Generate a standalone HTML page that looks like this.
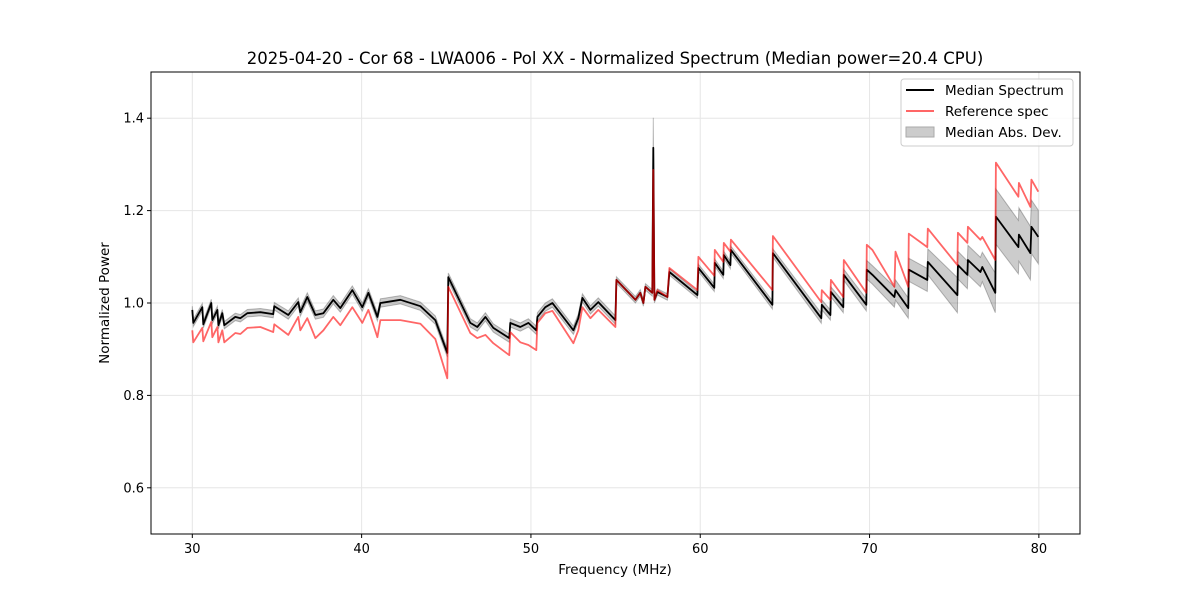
<!DOCTYPE html>
<html><head><meta charset="utf-8"><style>
body{margin:0;background:#fff;}
svg{display:block;font-family:"DejaVu Sans","Liberation Sans",sans-serif;}
</style></head><body>
<svg id="chart" width="1200" height="600" viewBox="0 0 1200 600">
<rect width="1200" height="600" fill="#fff"/>
<text x="615" y="64" font-size="16.5" text-anchor="middle">2025-04-20 - Cor 68 - LWA006 - Pol XX - Normalized Spectrum (Median power=20.4 CPU)</text>
<g id="grid"></g>
<g id="series"></g>
<rect x="151" y="72" width="929" height="462" fill="none" stroke="#000" stroke-width="1"/>
<g id="ticks"></g>
<text x="615" y="574" font-size="13.5" text-anchor="middle">Frequency (MHz)</text>
<text transform="translate(109,303) rotate(-90)" font-size="13.5" text-anchor="middle">Normalized Power</text>
<g>
<rect x="901" y="79" width="172" height="67" rx="3" fill="#fff" fill-opacity="0.8" stroke="#ccc"/>
<line x1="906" y1="90" x2="934" y2="90" stroke="#000" stroke-width="2"/>
<text x="945" y="95" font-size="13.5">Median Spectrum</text>
<line x1="906" y1="111" x2="934" y2="111" stroke="#ff6666" stroke-width="2"/>
<text x="945" y="116" font-size="13.5">Reference spec</text>
<rect x="906" y="127" width="28" height="10" fill="#ccc" stroke="#aaa"/>
<text x="945" y="137" font-size="13.5">Median Abs. Dev.</text>
</g>
</svg>
<script>
const freq=[30.00,30.06,30.59,30.65,31.12,31.18,31.48,31.54,31.77,31.89,32.54,32.84,33.25,34.02,34.78,34.84,35.67,36.26,36.38,36.79,37.27,37.74,38.33,38.74,39.45,40.04,40.40,40.93,41.11,42.29,43.47,44.35,45.06,45.12,46.42,46.83,47.31,47.78,48.72,48.78,49.37,49.85,50.32,50.38,50.85,51.27,52.51,52.80,53.04,53.51,53.98,54.99,55.05,56.17,56.46,56.64,56.76,57.17,57.23,57.29,57.47,58.06,58.18,59.83,59.89,60.83,60.86,61.36,61.39,61.78,61.81,64.26,64.29,67.15,67.18,67.69,67.72,68.45,68.48,69.81,69.84,70.17,71.47,71.53,72.29,72.32,73.41,73.44,75.19,75.22,75.78,75.81,76.55,76.66,77.43,77.46,78.79,78.82,79.50,79.56,79.97];
const medianSpec=[.985,.957,.991,.954,1.000,.963,.985,.952,.978,.952,.970,.967,.978,.980,.976,.993,.974,1.002,.980,1.013,.974,.978,1.007,.989,1.028,.991,1.022,.970,1.000,1.007,.993,.963,.892,1.056,.957,.948,.970,.946,.924,.957,.948,.957,.941,.970,.991,1.000,.941,.967,1.011,.985,1.002,.963,1.050,1.007,1.022,1.000,1.035,1.022,1.336,1.007,1.024,1.013,1.067,1.017,1.076,1.033,1.087,1.061,1.104,1.082,1.115,.996,1.108,.967,.996,.974,1.024,.991,1.061,.996,1.072,1.061,1.013,1.028,.989,1.072,1.050,1.089,1.017,1.082,1.061,1.093,1.067,1.078,1.022,1.187,1.121,1.148,1.108,1.165,1.143];
const refSpec=[.941,.915,.946,.917,.959,.926,.948,.915,.941,.915,.935,.933,.946,.948,.937,.954,.931,.970,.941,.967,.924,.941,.970,.952,.991,.957,.985,.926,.963,.963,.955,.922,.837,1.035,.935,.924,.931,.913,.887,.937,.915,.909,.898,.957,.978,.983,.913,.941,.991,.967,.985,.948,1.050,1.007,1.022,1.000,1.035,1.022,1.288,1.007,1.028,1.013,1.076,1.028,1.100,1.059,1.115,1.089,1.130,1.111,1.137,1.028,1.145,1.002,1.028,1.007,1.050,1.013,1.093,1.022,1.126,1.115,1.035,1.111,1.035,1.150,1.121,1.161,1.082,1.152,1.130,1.165,1.137,1.143,1.093,1.304,1.230,1.260,1.208,1.267,1.241];
const madSpec=[.008,.008,.008,.008,.008,.008,.008,.008,.008,.008,.008,.008,.008,.008,.008,.008,.009,.009,.009,.009,.009,.009,.009,.009,.009,.009,.009,.009,.009,.009,.009,.009,.009,.009,.009,.009,.009,.009,.009,.009,.009,.009,.009,.009,.009,.009,.009,.009,.009,.009,.009,.009,.007,.007,.007,.007,.007,.007,.065,.007,.007,.007,.007,.007,.008,.008,.008,.008,.008,.008,.008,.009,.009,.011,.011,.011,.011,.012,.012,.013,.02,.02,.022,.022,.022,.025,.025,.028,.038,.03,.03,.032,.032,.032,.043,.06,.058,.058,.058,.058,.058];
const xTicks=[30,40,50,60,70,80];
const yTicks=[0.6,0.8,1.0,1.2,1.4];

const NS="http://www.w3.org/2000/svg";
const X0=151,X1=1080,Y0=72,Y1=534,XMIN=27.56,XMAX=82.43,YMIN=0.5,YMAX=1.5;
function sx(f){return X0+(f-XMIN)/(XMAX-XMIN)*(X1-X0);}
function sy(v){return Y1-(v-YMIN)/(YMAX-YMIN)*(Y1-Y0);}
function mk(tag,attrs,parent){const e=document.createElementNS(NS,tag);for(const k in attrs)e.setAttribute(k,attrs[k]);parent.appendChild(e);return e;}
const grid=document.getElementById('grid'),ticks=document.getElementById('ticks'),ser=document.getElementById('series');
xTicks.forEach(t=>{const x=sx(t);
 const g=mk('line',{x1:x,x2:x,y1:Y0,y2:Y1,stroke:'#e6e6e6','stroke-width':1},grid);
 
 
 const tk=mk('line',{x1:x,x2:x,y1:Y1,y2:Y1+4,stroke:'#000'},ticks);
 
 
 const lb=mk('text',{x:x,y:Y1+19,'font-size':13,'text-anchor':'middle'},ticks);lb.textContent=t;
 
 
});
yTicks.forEach(t=>{const y=sy(t);
 const g=mk('line',{x1:X0,x2:X1,y1:y,y2:y,stroke:'#e6e6e6','stroke-width':1},grid);
 
 
 const tk=mk('line',{x1:X0-4,x2:X0,y1:y,y2:y,stroke:'#000'},ticks);
 
 
 const lb=mk('text',{x:X0-7,y:y+4.5,'font-size':13,'text-anchor':'end'},ticks);lb.textContent=t.toFixed(1);
 
 
});
let up=[],dn=[];
freq.forEach((f,i)=>{up.push(sx(f).toFixed(1)+','+sy(medianSpec[i]+madSpec[i]).toFixed(1));dn.unshift(sx(f).toFixed(1)+','+sy(medianSpec[i]-madSpec[i]).toFixed(1));});
const band=mk('polygon',{points:up.concat(dn).join(' '),fill:'#000','fill-opacity':0.2,stroke:'#000','stroke-opacity':0.25,'stroke-width':1},ser);


const mp=freq.map((f,i)=>sx(f).toFixed(1)+','+sy(medianSpec[i]).toFixed(1)).join(' ');
const ml=mk('polyline',{points:mp,fill:'none',stroke:'#000','stroke-width':1.8,'stroke-linejoin':'round'},ser);


const rp=freq.map((f,i)=>sx(f).toFixed(1)+','+sy(refSpec[i]).toFixed(1)).join(' ');
const rl=mk('polyline',{points:rp,fill:'none',stroke:'#ff0000','stroke-opacity':0.6,'stroke-width':1.8,'stroke-linejoin':'round'},ser);


</script>
</body></html>
